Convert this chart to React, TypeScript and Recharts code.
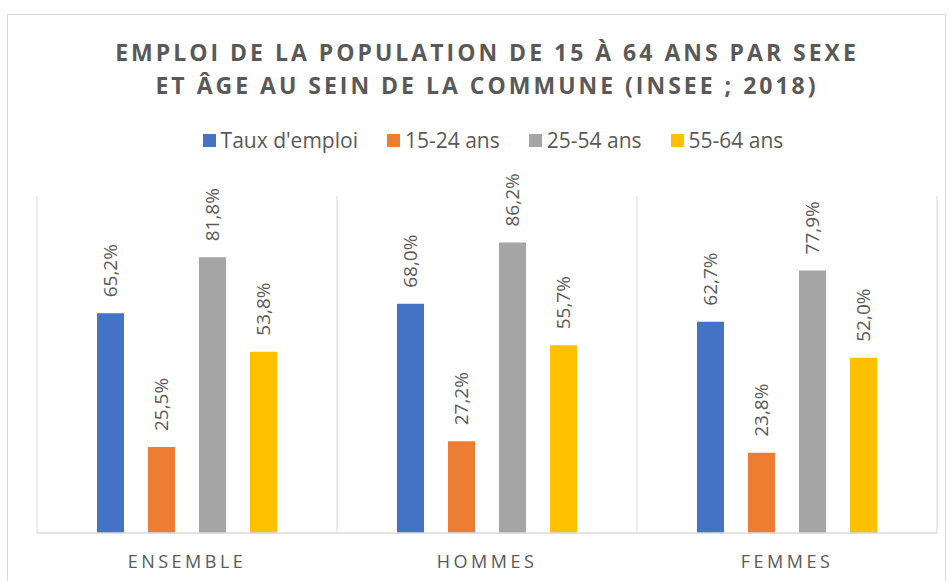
import React from 'react';
import { BarChart, Bar, XAxis, YAxis, CartesianGrid, LabelList } from 'recharts';

const categories = ['ENSEMBLE', 'HOMMES', 'FEMMES'];
const tauxEmploi = [65.2, 68.0, 62.7];
const age15_24 = [25.5, 27.2, 23.8];
const age25_54 = [81.8, 86.2, 77.9];
const age55_64 = [53.8, 55.7, 52.0];
const separatorTicks = [0, 1, 2, 3];

const series = [
  { key: 'taux', name: "Taux d'emploi", color: '#4472C4' },
  { key: 'a1524', name: '15-24 ans', color: '#ED7D31' },
  { key: 'a2554', name: '25-54 ans', color: '#A5A5A5' },
  { key: 'a5564', name: '55-64 ans', color: '#FFC000' },
];

const data = categories.map((name, i) => ({
  name,
  taux: tauxEmploi[i],
  a1524: age15_24[i],
  a2554: age25_54[i],
  a5564: age55_64[i],
}));

const FONT = '"Open Sans", sans-serif';
const TEXT = '#595959';

const fmt = (v: number) => v.toFixed(1).replace('.', ',') + '%';

const renderLabel = (props: any) => {
  const { x, y, width, value } = props;
  const cx = Number(x) + Number(width) / 2;
  const ty = Number(y) - 16;
  return (
    <text
      x={cx}
      y={ty}
      dy="0.36em"
      transform={`rotate(-90 ${cx} ${ty})`}
      textAnchor="start"
      fill={TEXT}
      fontSize={19}
      fontFamily={FONT}
    >
      {fmt(Number(value))}
    </text>
  );
};

const CatTick = (props: any) => {
  const { x, y, payload } = props;
  return (
    <text
      x={x}
      y={y}
      dy={35}
      textAnchor="middle"
      fill={TEXT}
      fontSize={18}
      letterSpacing={3.5}
      fontFamily={FONT}
    >
      {payload.value}
    </text>
  );
};

export default function App() {
  return (
    <div style={{ position: 'absolute', left: 0, top: 0, width: 950, height: 581, overflow: 'hidden', background: '#fff' }}>
      <div
        style={{
          position: 'absolute',
          left: 7,
          top: 14,
          width: 939,
          height: 620,
          border: '1px solid #d9d9d9',
          boxSizing: 'border-box',
        }}
      />
      <div
        style={{
          position: 'absolute',
          left: 0,
          top: 36,
          width: 974,
          textAlign: 'center',
          fontFamily: FONT,
          fontWeight: 700,
          fontSize: 23,
          lineHeight: '33px',
          letterSpacing: 3,
          color: TEXT,
        }}
      >
        EMPLOI DE LA POPULATION DE 15 À 64 ANS PAR SEXE
        <br />
        ET ÂGE AU SEIN DE LA COMMUNE (INSEE ; 2018)
      </div>
      <div
        style={{
          position: 'absolute',
          top: 128,
          left: 18,
          width: 950,
          display: 'flex',
          justifyContent: 'center',
          alignItems: 'center',
          fontFamily: FONT,
        }}
      >
        {series.map((s, i) => (
          <div key={s.key} style={{ display: 'flex', alignItems: 'center', marginRight: i < series.length - 1 ? 29 : 0 }}>
            <span style={{ width: 13, height: 13, background: s.color, display: 'inline-block', marginRight: 5 }} />
            <span style={{ fontSize: 21, color: TEXT, lineHeight: '24px' }}>{s.name}</span>
          </div>
        ))}
      </div>
      <div style={{ position: 'absolute', left: 0, top: 0 }}>
        <BarChart
          width={950}
          height={581}
          data={data}
          margin={{ top: 196, right: 13, left: 37, bottom: 0 }}
          barCategoryGap="20%"
          barGap={24}
        >
          <CartesianGrid
            horizontal={false}
            stroke="#d9d9d9"
            verticalCoordinatesGenerator={({ offset }: any) =>
              separatorTicks.map((t) => offset.left + (t * offset.width) / 3)
            }
          />
          <XAxis
            dataKey="name"
            height={48}
            axisLine={{ stroke: '#d9d9d9', strokeWidth: 1.5 }}
            tickLine={false}
            tickSize={0}
            tickMargin={0}
            tick={<CatTick />}
            interval={0}
          />
          <YAxis hide domain={[0, 100]} />
          {series.map((s) => (
            <Bar key={s.key} dataKey={s.key} name={s.name} fill={s.color} isAnimationActive={false}>
              <LabelList dataKey={s.key} content={renderLabel} />
            </Bar>
          ))}
        </BarChart>
      </div>
    </div>
  );
}
